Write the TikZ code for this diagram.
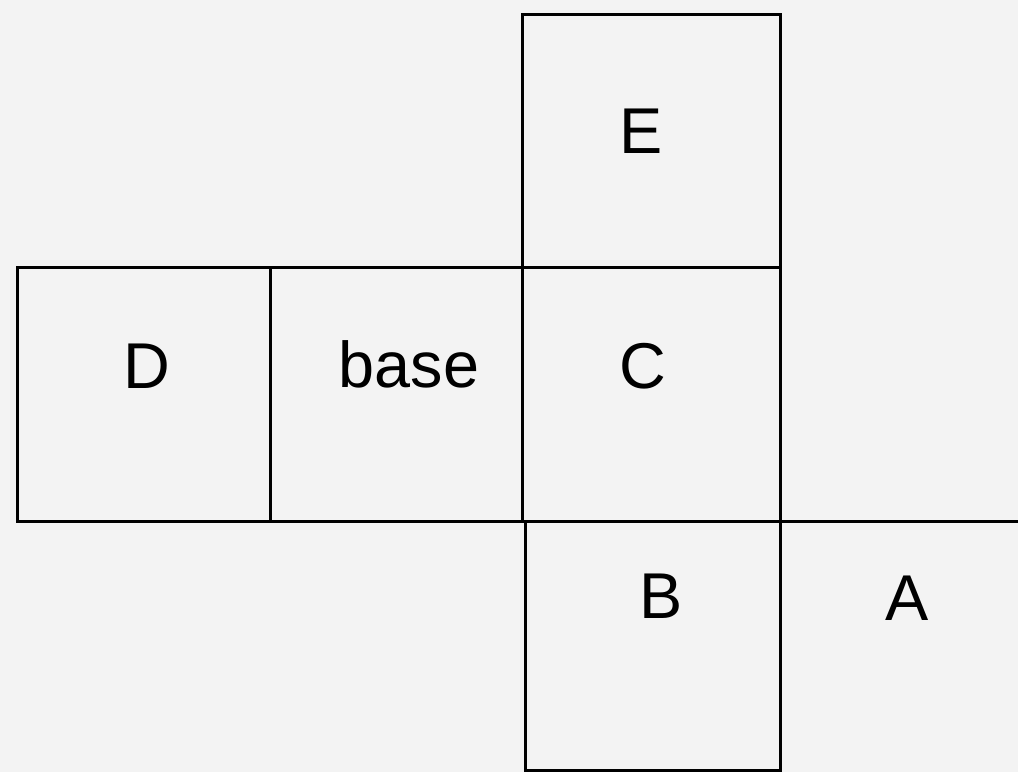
\documentclass[tikz,border=0pt]{standalone}
\usepackage{fontspec}
\setmainfont{Liberation Sans}
\definecolor{bg}{HTML}{F3F3F3}
\begin{document}
\begin{tikzpicture}[x=1bp,y=-1bp,
  edge/.style={line width=3bp,black},
  lbl/.style={font=\fontsize{65}{70}\selectfont,inner sep=0pt,anchor=base}]
\fill[bg] (0,0) rectangle (1018,772);
\useasboundingbox (0,0) rectangle (1018,772);
% coordinates
\coordinate (Etl) at (522,15);
\coordinate (Etr) at (780,15);
\coordinate (Dtl) at (17,267);
\coordinate (Dbl) at (17,521);
\coordinate (Rtr) at (780,267);
\coordinate (Rbr) at (780,521);
\coordinate (Xtop) at (270,267);
\coordinate (Xbot) at (270,521);
\coordinate (Ctl) at (522,267);
\coordinate (Cbl) at (522,521);
\coordinate (Btl) at (525,521);
\coordinate (Bbl) at (525,770);
\coordinate (Bbr) at (780,770);
\coordinate (Aend) at (1018,521);
% E
\draw[edge] (Ctl) -- (Etl) -- (Etr) -- (Rtr);
% row
\draw[edge] (Dtl) -- (Rtr) -- (Rbr) -- (Dbl) -- cycle;
\draw[edge] (Xtop) -- (Xbot);
\draw[edge] (Ctl) -- (Cbl);
% B
\draw[edge] (Btl) -- (Bbl) -- (Bbr) -- (Rbr);
% A
\draw[edge] (Rbr) -- (Aend);
% labels
\node[lbl] (E) at (641,153) {E};
\node[lbl] (D) at (147,388) {D};
\node[lbl] (base) at (409,387) {base};
\node[lbl] (C) at (643,388) {C};
\node[lbl] (B) at (661,618) {B};
\node[lbl] (A) at (907,620) {A};
\end{tikzpicture}
\end{document}
